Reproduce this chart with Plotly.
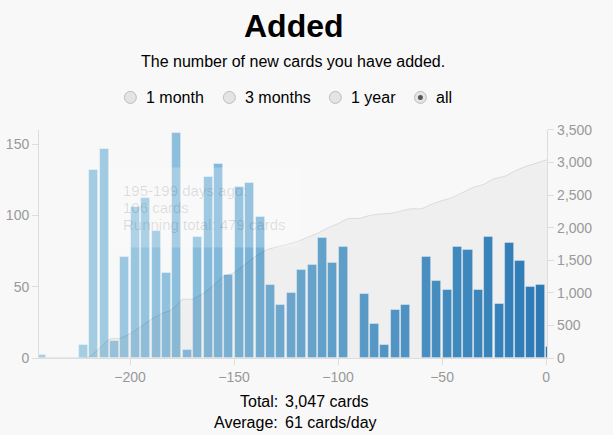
import plotly.graph_objects as go

# 5-day bins, start day (days ago as negative numbers), last bin is "today"
bin_start = list(range(-245, 5, 5))
added = [2, 0, 0, 0, 9, 132, 147, 12, 71, 106,
         112, 89, 60, 158, 6, 85, 127, 136, 58, 120,
         123, 99, 51, 37, 46, 62, 65, 84, 67, 78,
         0, 45, 24, 9, 34, 37, 0, 71, 54, 48,
         78, 76, 48, 85, 38, 81, 68, 50, 51, 8]

x_ticks = [-200, -150, -100, -50, 0]
left_ticks = [0, 50, 100, 150]
right_ticks = [0, 500, 1000, 1500, 2000, 2500, 3000, 3500]
periods = ["1 month", "3 months", "1 year", "all"]
selected_period = "all"

tooltip_lines = ["195-199 days ago:", "106 cards", "Running total: 479 cards"]

W, H = 613, 435
FONT = "Liberation Sans, Arial, sans-serif"


def px(x):
    return x / W


def py(y):
    # screen rows come out slightly squeezed, so undo that here
    d = (y - 7.7) / 0.962
    return (H - d) / H


bin_end = [min(s + 5, 1) for s in bin_start]
centers = [(s + e) / 2 for s, e in zip(bin_start, bin_end)]
widths = [(e - s) * 0.88 for s, e in zip(bin_start, bin_end)]

bars = [(c, w, n) for c, w, n in zip(centers, widths, added) if n > 0]

running = []
total = 0
for n in added:
    total += n
    running.append(total)
cum_x = [bin_start[0]] + bin_end
cum_y = [0] + running

average = round(total / len(added))

fig = go.Figure()

fig.add_trace(go.Bar(
    x=[b[0] for b in bars],
    y=[b[2] for b in bars],
    width=[b[1] for b in bars],
    marker=dict(
        color=[b[0] for b in bars],
        colorscale=[[0, "#a6cee3"], [0.5, "#69a9d3"], [1, "#2e7ebc"]],
        cmin=-222.5, cmax=-2.5,
        line=dict(width=0.8, color="rgba(255,255,255,0.45)"),
    ),
    hoverinfo="skip",
))

fig.add_trace(go.Scatter(
    x=cum_x, y=cum_y, yaxis="y2",
    mode="lines",
    line=dict(color="rgba(0,0,0,0.1)", width=1, shape="spline", smoothing=0.6),
    fill="tozeroy",
    fillcolor="rgba(0,0,0,0.035)",
    hoverinfo="skip",
))

axis_font = dict(family=FONT, size=14, color="#999")

fig.update_layout(
    autosize=True,
    margin=dict(l=0, r=0, t=0, b=0),
    paper_bgcolor="#f8f8f8",
    plot_bgcolor="#f8f8f8",
    showlegend=False,
    bargap=0,
    hovermode=False,
    xaxis=dict(
        domain=[px(39.2), px(550)],
        range=[-243.8, 0.6],
        tickvals=x_ticks,
        ticks="outside", ticklen=6, tickcolor="#ddd",
        showline=True, linecolor="#ddd",
        showgrid=False, zeroline=False,
        tickfont=axis_font,
    ),
    yaxis=dict(
        domain=[py(357.3), py(129.5)],
        range=[0, 160],
        tickvals=left_ticks,
        ticks="outside", ticklen=6, tickcolor="#ddd",
        showline=True, linecolor="#ddd",
        showgrid=False, zeroline=False,
        tickfont=axis_font,
    ),
    yaxis2=dict(
        overlaying="y", side="right", anchor="x",
        range=[0, 3500],
        tickvals=right_ticks,
        tickformat=",",
        ticks="outside", ticklen=6, tickcolor="#ddd",
        showline=True, linecolor="#ddd",
        showgrid=False, zeroline=False,
        tickfont=axis_font,
    ),
)

annotations = [
    dict(text="<b>Added</b>", x=px(295), y=py(26), font=dict(size=32, color="#000")),
    dict(text="The number of new cards you have added.", x=px(294.5), y=py(61),
         font=dict(size=16, color="#000")),
    dict(text="Total:", x=px(281), y=py(401), xanchor="right", font=dict(size=16, color="#000")),
    dict(text=f"{total:,} cards", x=px(284), y=py(401), xanchor="left", font=dict(size=16, color="#000")),
    dict(text="Average:", x=px(281), y=py(422), xanchor="right", font=dict(size=16, color="#000")),
    dict(text=f"{average} cards/day", x=px(284), y=py(422), xanchor="left", font=dict(size=16, color="#000")),
]

# radio buttons
radio_x = [131, 230.5, 337, 422.5]
shapes = []
for rx, label in zip(radio_x, periods):
    shapes.append(dict(type="circle", xref="paper", yref="paper",
                       x0=px(rx - 6), x1=px(rx + 6), y0=py(97 + 6), y1=py(97 - 6),
                       fillcolor="#e4e4e4", line=dict(color="#bdbdbd", width=1)))
    if label == selected_period:
        shapes.append(dict(type="circle", xref="paper", yref="paper",
                           x0=px(rx - 2.5), x1=px(rx + 2.5), y0=py(97 + 2.5), y1=py(97 - 2.5),
                           fillcolor="#555", line=dict(width=0)))
    annotations.append(dict(text=label, x=px(rx + 14), y=py(97), xanchor="left",
                            font=dict(size=16, color="#000")))

# faded tooltip left on the chart
shapes.append(dict(type="rect", xref="paper", yref="paper",
                   x0=px(109), x1=px(302), y0=py(247), y1=py(167),
                   fillcolor="rgba(255,255,255,0.22)", line=dict(width=0)))
for i, line in enumerate(tooltip_lines):
    annotations.append(dict(text=line, x=px(122), y=py(190 + 17 * i), xanchor="left",
                            font=dict(size=15, color="rgba(0,0,0,0.12)")))

for a in annotations:
    a.setdefault("xanchor", "center")
    a["yanchor"] = "middle"
    a["xref"] = "paper"
    a["yref"] = "paper"
    a["showarrow"] = False
    a["font"]["family"] = FONT

fig.update_layout(annotations=annotations, shapes=shapes)

page_fix = (
    "document.documentElement.style.margin='0';"
    "document.documentElement.style.overflow='hidden';"
    "document.body.style.margin='0';"
    "document.body.style.overflow='hidden';"
    "var gd=document.getElementById('{plot_id}');"
    "gd.style.width='100vw';gd.style.height='100vh';"
    "Plotly.Plots.resize(gd);"
)

fig.write_html("out.html", config={"displayModeBar": False, "responsive": True},
               default_width="100vw", default_height="100vh",
               post_script=page_fix)
